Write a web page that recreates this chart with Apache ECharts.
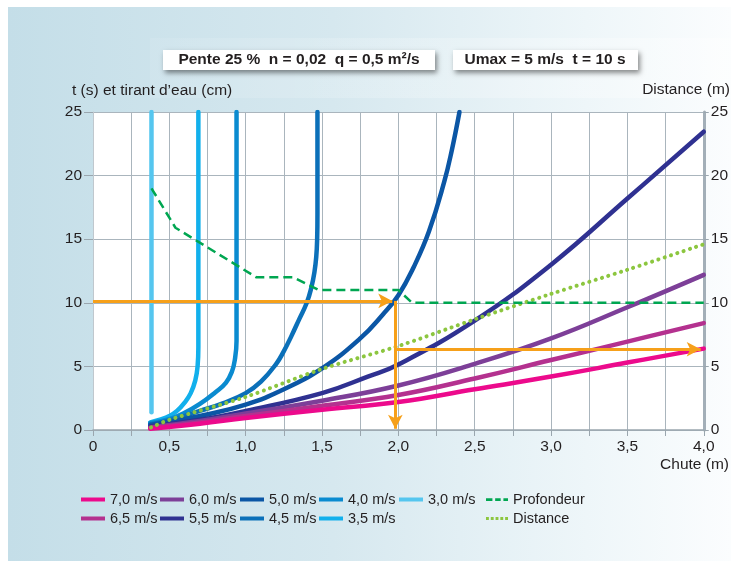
<!DOCTYPE html>
<html>
<head>
<meta charset="utf-8">
<script src="https://cdn.jsdelivr.net/npm/echarts@6/dist/echarts.min.js"></script>
<style>html,body{margin:0;padding:0;background:#fff}#c{width:731px;height:561px}</style>
</head>
<body>
<div id="c"></div>
<script>
// ---- data (x = chute in m, y = t in s) ----
const xTicks = ['0', '0,5', '1,0', '1,5', '2,0', '2,5', '3,0', '3,5', '4,0'];
const v70 = [[0.375,0.1],[0.7,0.5],[1.0,0.95],[1.5,1.6],[2.0,2.2],[2.5,3.2],[3.0,4.2],[3.5,5.3],[4.0,6.4]];
const v65 = [[0.375,0.15],[0.7,0.6],[1.0,1.1],[1.5,1.9],[2.0,2.75],[2.5,4.05],[3.0,5.5],[3.5,6.95],[4.0,8.4]];
const v60 = [[0.375,0.2],[0.7,0.7],[1.0,1.3],[1.5,2.3],[2.0,3.5],[2.5,5.2],[3.0,7.2],[3.5,9.65],[4.0,12.2]];
const v55 = [[0.375,0.3],[0.7,0.8],[1.0,1.5],[1.5,2.9],[1.8,4.2],[2.0,5.15],[2.5,8.6],[3.0,13.0],[3.5,18.2],[4.0,23.45]];
const v50 = [[0.375,0.4],[0.5,0.65],[0.7,1.1],[1.0,2.0],[1.25,3.2],[1.5,4.85],[1.75,7.2],[1.9,9.1],[2.0,10.6],[2.1,12.8],[2.2,15.6],[2.3,19.5],[2.35,22],[2.4,25]];
const v45 = [[0.375,0.45],[0.5,0.75],[0.7,1.5],[0.85,2.1],[1.0,2.9],[1.1,3.8],[1.2,5.2],[1.25,6.2],[1.3,7.4],[1.35,8.7],[1.4,10.0],[1.43,11.2],[1.45,12.4],[1.462,13.6],[1.468,15],[1.47,17],[1.47,25]];
const v40 = [[0.375,0.55],[0.5,0.85],[0.6,1.35],[0.7,2.05],[0.8,2.95],[0.87,3.7],[0.91,4.6],[0.93,5.6],[0.94,7],[0.94,25]];
const v35 = [[0.375,0.6],[0.45,0.85],[0.5,1.1],[0.55,1.5],[0.6,2.15],[0.64,2.9],[0.67,3.9],[0.685,5.0],[0.69,6.5],[0.69,25]];
const v30 = [[0.383,1.4],[0.383,25]];
const profondeur = [[0.383,19],[0.54,15.9],[1.07,12],[1.31,12],[1.48,11],[2.0,11],[2.09,10],[4.0,10]];
const distance = [[0.38,0.2],[0.5,0.8],[1.0,2.6],[1.5,4.8],[2.0,6.6],[2.5,8.7],[3.0,10.7],[3.5,12.6],[4.0,14.6]];
const arrowSegments = [
  [[0, 10.15], [1.96, 10.15]],
  [[1.98, 10.15], [1.98, 0.1]],
  [[1.98, 6.35], [3.98, 6.35]]
];

const FONT = "'Liberation Sans', Arial, sans-serif";
const TXT = '#231f20';
const GRIDC = '#aab5bd';
const FS = 15.5;

const curves = [
  {name:'3,0 m/s', data:v30, color:'#55c6ef'},
  {name:'3,5 m/s', data:v35, color:'#12b0ec'},
  {name:'4,0 m/s', data:v40, color:'#0a8bd0'},
  {name:'4,5 m/s', data:v45, color:'#0b70b9'},
  {name:'5,0 m/s', data:v50, color:'#0b56a5'},
  {name:'5,5 m/s', data:v55, color:'#2f3191'},
  {name:'6,0 m/s', data:v60, color:'#7d3f98'},
  {name:'6,5 m/s', data:v65, color:'#b4318f'},
  {name:'7,0 m/s', data:v70, color:'#ec0a8c'}
];

const series = curves.map(c => ({
  name: c.name, type: 'line', data: c.data, symbol: 'none', smooth: 0.45,
  color: c.color,
  lineStyle: {color: c.color, width: 4.5, cap: 'round'},
  emphasis: {disabled: true}, z: 3
}));
series.push({
  name: 'Distance', type: 'line', yAxisIndex: 1, data: distance, symbol: 'none', smooth: 0.3,
  color: '#8cc63f',
  lineStyle: {color: '#8cc63f', width: 4, type: [0.1, 6.5], cap: 'round'},
  emphasis: {disabled: true}, z: 4
});
series.push({
  name: 'Profondeur', type: 'line', data: profondeur, symbol: 'none',
  color: '#00a651',
  lineStyle: {color: '#00a651', width: 2.5, type: [9, 5]},
  emphasis: {disabled: true}, z: 4
});
series.push({
  name: 'fleches', type: 'line', data: [], symbol: 'none', z: 5,
  markLine: {
    silent: true, animation: false,
    symbol: ['none', 'arrow'], symbolSize: [11, 14],
    label: {show: false},
    lineStyle: {color: '#f6a01a', width: 3, type: 'solid'},
    emphasis: {disabled: true},
    data: arrowSegments.map(s => [{coord: s[0]}, {coord: s[1]}])
  }
});

const DASH_ICON = 'path://M0,0h7v3h-7z M10,0h6v3h-6z M19,0h5v3h-5z';
const DOT_ICON = 'path://M0,0h3v3h-3z M5,0h3v3h-3z M10,0h3v3h-3z M15,0h3v3h-3z M20,0h3v3h-3z';

const legendBase = {
  orient: 'vertical', top: 490, itemWidth: 24, itemHeight: 4, itemGap: 0,
  selectedMode: false, icon: 'rect',
  textStyle: {fontFamily: FONT, fontSize: 14.5, color: TXT, lineHeight: 19, padding: [0,0,0,0]},
  padding: 0
};
const legendCols = [
  {left: 81, data: ['7,0 m/s', '6,5 m/s']},
  {left: 160, data: ['6,0 m/s', '5,5 m/s']},
  {left: 240, data: ['5,0 m/s', '4,5 m/s']},
  {left: 319, data: ['4,0 m/s', '3,5 m/s']},
  {left: 399, data: ['3,0 m/s']},
  {left: 486, itemWidth: 22, data: [{name: 'Profondeur', icon: DASH_ICON}, {name: 'Distance', icon: DOT_ICON}]}
];

const chart = echarts.init(document.getElementById('c'), null, {renderer: 'canvas'});
chart.setOption({
  animation: false,
  backgroundColor: '#ffffff',
  graphic: [
    {type: 'rect', left: 8, top: 7, shape: {width: 723, height: 554}, z: -10,
     style: {fill: {type: 'linear', x: 0, y: 0, x2: 1, y2: 0,
       colorStops: [{offset: 0, color: '#c4dee8'}, {offset: 0.45, color: '#d6e8ef'}, {offset: 0.8, color: '#eef6f9'}, {offset: 1, color: '#fbfdfe'}]}}},
    {type: 'rect', left: 150, top: 38, shape: {width: 581, height: 60}, z: -9,
     style: {fill: {type: 'linear', x: 0, y: 0, x2: 1, y2: 0,
       colorStops: [{offset: 0, color: 'rgba(255,255,255,0.08)'}, {offset: 1, color: 'rgba(255,255,255,0.35)'}]}}},
    {type: 'rect', left: 163, top: 50, shape: {width: 272, height: 20}, z: 10,
     style: {fill: '#ffffff', shadowBlur: 5, shadowOffsetX: 2, shadowOffsetY: 3, shadowColor: 'rgba(0,0,0,0.45)'}},
    {type: 'text', x: 299, y: 60, z: 11,
     style: {text: 'Pente 25 %  n = 0,02  q = 0,5 m²/s', fontFamily: FONT, fontWeight: 'bold', fontSize: 15.5, fill: TXT, align: 'center', verticalAlign: 'middle'}},
    {type: 'rect', left: 453, top: 50, shape: {width: 185, height: 20}, z: 10,
     style: {fill: '#ffffff', shadowBlur: 5, shadowOffsetX: 2, shadowOffsetY: 3, shadowColor: 'rgba(0,0,0,0.45)'}},
    {type: 'text', x: 545, y: 60, z: 11,
     style: {text: 'Umax = 5 m/s  t = 10 s', fontFamily: FONT, fontWeight: 'bold', fontSize: 15.5, fill: TXT, align: 'center', verticalAlign: 'middle'}},
    {type: 'text', x: 72, y: 91, z: 11,
     style: {text: 't (s) et tirant d\u2019eau (cm)', fontFamily: FONT, fontSize: FS, fill: TXT, align: 'left', verticalAlign: 'middle'}},
    {type: 'text', x: 730, y: 90, z: 11,
     style: {text: 'Distance (m)', fontFamily: FONT, fontSize: FS, fill: TXT, align: 'right', verticalAlign: 'middle'}},
    {type: 'text', x: 729, y: 465, z: 11,
     style: {text: 'Chute (m)', fontFamily: FONT, fontSize: FS, fill: TXT, align: 'right', verticalAlign: 'middle'}}
  ],
  grid: {left: 93, right: 26, top: 112, bottom: 131, show: true, backgroundColor: '#ffffff', borderWidth: 0},
  legend: legendCols.map(c => Object.assign({}, legendBase, c)),
  xAxis: {
    type: 'value', min: 0, max: 4, interval: 0.25,
    axisLine: {show: true, onZero: false, lineStyle: {color: '#9aa6ae', width: 1.5}},
    axisTick: {show: true, length: 6, lineStyle: {color: '#9aa6ae'}},
    axisLabel: {
      fontFamily: FONT, fontSize: FS, color: TXT, margin: 9,
      formatter: v => {
        const k = Math.round(v * 2);
        if (Math.abs(v * 2 - k) > 1e-6) return '';
        return xTicks[k];
      }
    },
    splitLine: {show: true, lineStyle: {color: GRIDC, width: 1}}
  },
  yAxis: [
    {
      type: 'value', min: 0, max: 25, interval: 5, position: 'left',
      axisLine: {show: true, lineStyle: {color: '#c0c8ce', width: 1}},
      axisTick: {show: true, length: 9, lineStyle: {color: '#9aa6ae'}},
      axisLabel: {fontFamily: FONT, fontSize: FS, color: TXT, margin: 11},
      splitLine: {show: true, lineStyle: {color: GRIDC, width: 1}}
    },
    {
      type: 'value', min: 0, max: 25, interval: 5, position: 'right',
      axisLine: {show: true, lineStyle: {color: '#a3afb8', width: 3}},
      axisTick: {show: true, length: 5, lineStyle: {color: '#9aa6ae'}},
      axisLabel: {fontFamily: FONT, fontSize: FS, color: TXT, margin: 7},
      splitLine: {show: false}
    }
  ],
  series: series
});
</script>
</body>
</html>
